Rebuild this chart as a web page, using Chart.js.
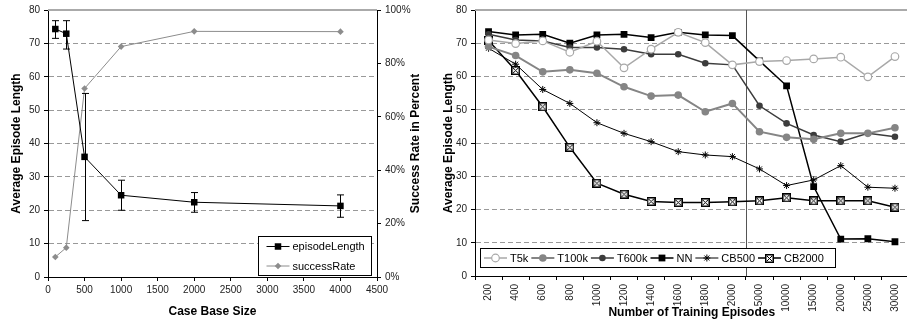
<!DOCTYPE html>
<html>
<head>
<meta charset="utf-8">
<script src="https://cdn.jsdelivr.net/npm/chart.js@4.4.0/dist/chart.umd.min.js"></script>
<style>
  html, body { margin: 0; padding: 0; background: #fff; }
  #wrap { position: relative; width: 907px; height: 321px; overflow: hidden; }
  #left { position: absolute; left: 0; top: 0; }
  #right { position: absolute; left: 437px; top: 0; }
</style>
</head>
<body>
<div id="wrap">
  <div id="left"><canvas id="caseChart" width="437" height="321"></canvas></div>
  <div id="right"><canvas id="trainChart" width="477" height="321"></canvas></div>
</div>
<script>
// left chart data
const caseSizes = [100, 250, 500, 1000, 2000, 4000];
const episodeLength = [74.3, 72.9, 36.0, 24.5, 22.4, 21.3];
const episodeLow = [71.5, 68.3, 16.9, 20.0, 19.4, 17.9];
const episodeHigh = [76.8, 76.8, 55.0, 29.0, 25.3, 24.6];
const successRate = [7.5, 11.0, 70.6, 86.3, 92.0, 91.9];

// right chart data
const trainEpisodes = ['200', '400', '600', '800', '1000', '1200', '1400', '1600', '1800', '2000',
                       '5000', '10000', '15000', '20000', '25000', '30000'];
const t5k    = [71.0, 69.9, 70.7, 67.3, 70.6, 62.6, 68.2, 73.3, 70.2, 63.5, 64.5, 64.8, 65.3, 65.8, 59.9, 66.0];
const t100k  = [69.0, 66.3, 61.4, 62.0, 61.0, 56.9, 54.1, 54.4, 49.4, 51.9, 43.4, 41.7, 41.1, 42.9, 42.9, 44.6];
const t600k  = [72.7, 71.0, 70.7, 68.7, 68.7, 68.2, 66.7, 66.7, 64.0, 63.5, 51.2, 45.9, 42.4, 40.4, 42.9, 41.9];
const nn     = [73.5, 72.5, 72.7, 70.0, 72.5, 72.7, 71.7, 73.3, 72.5, 72.3, 64.7, 57.2, 26.9, 11.1, 11.2, 10.3];
const cb500  = [68.5, 63.7, 56.1, 51.9, 46.1, 42.9, 40.4, 37.4, 36.4, 35.9, 32.2, 27.2, 28.9, 33.2, 26.7, 26.4];
const cb2000 = [70.8, 61.8, 50.9, 38.7, 27.9, 24.6, 22.4, 22.1, 22.1, 22.3, 22.6, 23.5, 22.6, 22.6, 22.6, 20.7];

Chart.defaults.font.family = '"Liberation Sans", Arial, sans-serif';
Chart.defaults.font.size = 10;
Chart.defaults.color = '#222';

const gridDash = [5, 3];
const hideEdges = ctx => (ctx.tick.value === 0 || ctx.tick.value === 80) ? 'rgba(0,0,0,0)' : '#999';

// square-with-cross marker for CB2000
const boxX = document.createElement('canvas');
boxX.width = 9; boxX.height = 9;
(function() {
  const c = boxX.getContext('2d');
  c.fillStyle = '#fff';
  c.fillRect(0, 0, 9, 9);
  c.strokeStyle = '#000';
  c.lineWidth = 1.5;
  c.strokeRect(0.75, 0.75, 7.5, 7.5);
  c.lineWidth = 1;
  c.beginPath();
  c.moveTo(2, 2); c.lineTo(7, 7);
  c.moveTo(7, 2); c.lineTo(2, 7);
  c.stroke();
})();

function drawMarker(ctx, ds, x, y) {
  ctx.save();
  if (typeof ds.pointStyle !== 'string') {
    ctx.drawImage(ds.pointStyle, Math.round(x - ds.pointStyle.width / 2), Math.round(y - ds.pointStyle.height / 2));
    ctx.restore();
    return;
  }
  ctx.fillStyle = ds.pointBackgroundColor;
  ctx.strokeStyle = ds.pointBorderColor;
  ctx.lineWidth = ds.pointBorderWidth;
  Chart.helpers.drawPoint(ctx, { pointStyle: ds.pointStyle, radius: ds.pointRadius, rotation: 0, borderWidth: ds.pointBorderWidth }, x, y);
  ctx.restore();
}

function legendEntry(ctx, ds, x, y) {
  ctx.save();
  ctx.strokeStyle = ds.borderColor;
  ctx.lineWidth = ds.borderWidth;
  ctx.beginPath();
  ctx.moveTo(x, y);
  ctx.lineTo(x + 23, y);
  ctx.stroke();
  ctx.restore();
  drawMarker(ctx, ds, x + 11.5, y);
  ctx.fillStyle = '#000';
  ctx.textBaseline = 'middle';
  ctx.textAlign = 'left';
  ctx.fillText(ds.label, x + 26, y + 0.5);
}

// solid gray line along the top of the plot
const topLine = {
  id: 'topLine',
  beforeDatasetsDraw(chart) {
    const { ctx, chartArea } = chart;
    ctx.save();
    ctx.strokeStyle = '#aaa';
    ctx.lineWidth = 2;
    ctx.beginPath();
    ctx.moveTo(chartArea.left, chartArea.top);
    ctx.lineTo(chartArea.right, chartArea.top);
    ctx.stroke();
    ctx.restore();
  }
};

const errorBars = {
  id: 'errorBars',
  afterDatasetsDraw(chart) {
    const { ctx, scales } = chart;
    ctx.save();
    ctx.strokeStyle = '#000';
    ctx.lineWidth = 1;
    caseSizes.forEach((cs, i) => {
      const x = Math.round(scales.x.getPixelForValue(cs)) + 0.5;
      const yl = scales.y.getPixelForValue(episodeLow[i]);
      const yh = scales.y.getPixelForValue(episodeHigh[i]);
      ctx.beginPath();
      ctx.moveTo(x, yl); ctx.lineTo(x, yh);
      ctx.moveTo(x - 3.5, yl); ctx.lineTo(x + 3.5, yl);
      ctx.moveTo(x - 3.5, yh); ctx.lineTo(x + 3.5, yh);
      ctx.stroke();
    });
    ctx.restore();
  }
};

const leftExtras = {
  id: 'leftExtras',
  afterDraw(chart) {
    const { ctx, chartArea } = chart;
    // right axis title, reading bottom to top
    ctx.save();
    ctx.translate(chartArea.right + 39, (chartArea.top + chartArea.bottom) / 2);
    ctx.rotate(-Math.PI / 2);
    ctx.font = 'bold 12px "Liberation Sans", Arial, sans-serif';
    ctx.fillStyle = '#000';
    ctx.textAlign = 'center';
    ctx.textBaseline = 'middle';
    ctx.fillText('Success Rate in Percent', 0, 0);
    ctx.restore();
    // legend box
    const w = 113, h = 39;
    const bx = Math.round(chartArea.right - 6 - w) + 0.5;
    const by = Math.round(chartArea.bottom - 2 - h) + 0.5;
    ctx.save();
    ctx.fillStyle = '#fff';
    ctx.fillRect(bx, by, w, h);
    ctx.strokeStyle = '#000';
    ctx.lineWidth = 1;
    ctx.strokeRect(bx, by, w, h);
    ctx.font = '11px "Liberation Sans", Arial, sans-serif';
    chart.data.datasets.forEach((ds, i) => legendEntry(ctx, ds, bx + 8, by + 10 + i * 19.5));
    ctx.restore();
  }
};

const rightExtras = {
  id: 'rightExtras',
  beforeDatasetsDraw(chart) {
    const { ctx, chartArea, scales } = chart;
    const x = Math.round((scales.x.getPixelForValue(9) + scales.x.getPixelForValue(10)) / 2) + 0.5;
    ctx.save();
    ctx.strokeStyle = '#555';
    ctx.lineWidth = 1;
    ctx.beginPath();
    ctx.moveTo(x, chartArea.top);
    ctx.lineTo(x, chartArea.bottom);
    ctx.stroke();
    ctx.restore();
  },
  afterDraw(chart) {
    const { ctx, chartArea } = chart;
    const w = 355, h = 19;
    const bx = Math.round(chartArea.left + 6) - 0.5;
    const by = Math.round(chartArea.bottom - 9 - h) + 0.5;
    ctx.save();
    ctx.fillStyle = '#fff';
    ctx.fillRect(bx, by, w, h);
    ctx.strokeStyle = '#000';
    ctx.lineWidth = 1;
    ctx.strokeRect(bx, by, w, h);
    ctx.font = '11px "Liberation Sans", Arial, sans-serif';
    let x = bx + 3.5;
    chart.data.datasets.forEach(ds => {
      legendEntry(ctx, ds, x, by + h / 2);
      x += 26 + ctx.measureText(ds.label).width + 3;
    });
    ctx.restore();
  }
};

const titleFont = { size: 12, weight: 'bold' };

new Chart(document.getElementById('caseChart'), {
  type: 'line',
  data: {
    datasets: [{
      label: 'episodeLength',
      data: caseSizes.map((x, i) => ({ x: x, y: episodeLength[i] })),
      yAxisID: 'y',
      borderColor: '#000',
      borderWidth: 1,
      pointStyle: 'rect',
      pointRadius: 4.6,
      pointBackgroundColor: '#000',
      pointBorderColor: '#000',
      pointBorderWidth: 0,
      tension: 0
    }, {
      label: 'successRate',
      data: caseSizes.map((x, i) => ({ x: x, y: successRate[i] })),
      yAxisID: 'y1',
      borderColor: '#8c8c8c',
      borderWidth: 1,
      pointStyle: 'rectRot',
      pointRadius: 3.3,
      pointBackgroundColor: '#8c8c8c',
      pointBorderColor: '#8c8c8c',
      pointBorderWidth: 0,
      tension: 0
    }]
  },
  options: {
    responsive: false,
    animation: false,
    events: [],
    layout: { padding: { top: 10, left: 0, right: 0, bottom: 0 } },
    plugins: { legend: { display: false }, tooltip: { enabled: false } },
    scales: {
      x: {
        type: 'linear', min: 0, max: 4500,
        ticks: { stepSize: 500, padding: 3, color: '#222', callback: v => String(v) },
        grid: { drawOnChartArea: false, tickLength: 4, color: '#000' },
        border: { color: '#000', width: 1 },
        title: { display: true, text: 'Case Base Size', font: titleFont, color: '#000', padding: { top: 0, bottom: 2 } },
        afterFit: s => { s.height = 44; }
      },
      y: {
        position: 'left', min: 0, max: 80,
        ticks: { stepSize: 10, padding: 4, color: '#222' },
        grid: { color: hideEdges, tickColor: '#000', tickLength: 4 },
        border: { color: '#000', width: 1, dash: gridDash },
        title: { display: true, text: 'Average Episode Length', font: titleFont, color: '#000', padding: { top: 9, bottom: 0 } },
        afterFit: s => { s.width = 48; }
      },
      y1: {
        position: 'right', min: 0, max: 100,
        ticks: { stepSize: 20, padding: 4, color: '#222', callback: v => v + '%' },
        grid: { drawOnChartArea: false, tickColor: '#000', tickLength: 4 },
        border: { color: '#000', width: 1 },
        afterFit: s => { s.width = 60; }
      }
    }
  },
  plugins: [topLine, errorBars, leftExtras]
});

new Chart(document.getElementById('trainChart'), {
  type: 'line',
  data: {
    labels: trainEpisodes,
    datasets: [
      { label: 'T5k', data: t5k, borderColor: '#a8a8a8', borderWidth: 1.5,
        pointStyle: 'circle', pointRadius: 3.8, pointBackgroundColor: '#fff', pointBorderColor: '#a8a8a8', pointBorderWidth: 1.2 },
      { label: 'T100k', data: t100k, borderColor: '#858585', borderWidth: 2,
        pointStyle: 'circle', pointRadius: 3.8, pointBackgroundColor: '#858585', pointBorderColor: '#858585', pointBorderWidth: 0 },
      { label: 'T600k', data: t600k, borderColor: '#3c3c3c', borderWidth: 1.5,
        pointStyle: 'circle', pointRadius: 3.3, pointBackgroundColor: '#3c3c3c', pointBorderColor: '#3c3c3c', pointBorderWidth: 0 },
      { label: 'NN', data: nn, borderColor: '#000', borderWidth: 1.5,
        pointStyle: 'rect', pointRadius: 4.8, pointBackgroundColor: '#000', pointBorderColor: '#000', pointBorderWidth: 0 },
      { label: 'CB500', data: cb500, borderColor: '#000', borderWidth: 1,
        pointStyle: 'star', pointRadius: 3.5, pointBackgroundColor: '#000', pointBorderColor: '#000', pointBorderWidth: 1 },
      { label: 'CB2000', data: cb2000, borderColor: '#000', borderWidth: 1.5,
        pointStyle: boxX, pointRadius: 4.5, pointBackgroundColor: '#fff', pointBorderColor: '#000', pointBorderWidth: 1 }
    ]
  },
  options: {
    responsive: false,
    animation: false,
    events: [],
    layout: { padding: { top: 10, left: 0, right: 0, bottom: 0 } },
    plugins: { legend: { display: false }, tooltip: { enabled: false } },
    elements: { line: { tension: 0 } },
    scales: {
      x: {
        type: 'category', offset: true,
        ticks: { minRotation: 90, maxRotation: 90, padding: 4, color: '#222', autoSkip: false },
        grid: { offset: true, drawOnChartArea: false, tickLength: 4, color: '#000' },
        border: { color: '#000', width: 1 },
        title: { display: true, text: 'Number of Training Episodes', font: titleFont, color: '#000', padding: { top: 0, bottom: 1 } },
        afterFit: s => { s.height = 45; }
      },
      y: {
        min: 0, max: 80,
        ticks: { stepSize: 10, padding: 4, color: '#222' },
        grid: { color: hideEdges, tickColor: '#000', tickLength: 4 },
        border: { color: '#000', width: 1, dash: gridDash },
        title: { display: true, text: 'Average Episode Length', font: titleFont, color: '#000', padding: { top: 4, bottom: 0 } },
        afterFit: s => { s.width = 38; }
      }
    }
  },
  plugins: [topLine, rightExtras]
});
</script>
</body>
</html>
